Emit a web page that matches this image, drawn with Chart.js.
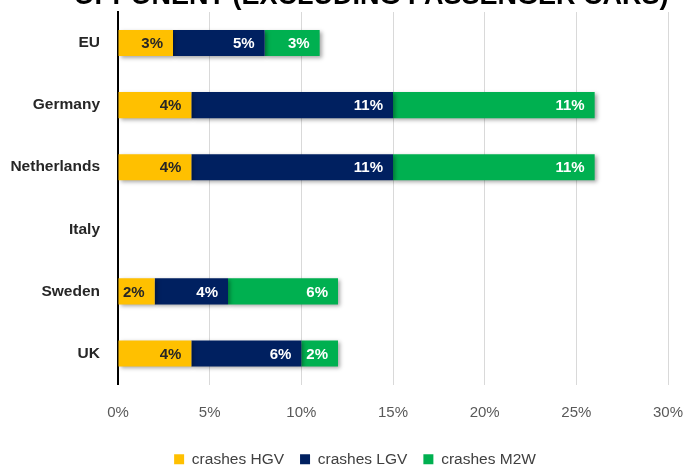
<!DOCTYPE html>
<html>
<head>
<meta charset="utf-8">
<script src="https://cdn.jsdelivr.net/npm/chart.js@4/dist/chart.umd.min.js"></script>
<style>
  html, body { margin: 0; padding: 0; background: #fff; }
  #wrap { width: 688px; height: 467px; overflow: hidden; position: relative; }
  #chart { display: block; margin-top: -18px; }
</style>
</head>
<body>
<div id="wrap">
  <canvas id="chart" width="688" height="495"></canvas>
</div>
<script>
// chart data
const countries = ["EU", "Germany", "Netherlands", "Italy", "Sweden", "UK"];
const crashesHGV = [3, 4, 4, 0, 2, 4];
const crashesLGV = [5, 11, 11, 0, 4, 6];
const crashesM2W = [3, 11, 11, 0, 6, 2];
const xTicks = [0, 5, 10, 15, 20, 25, 30];
const chartTitle = "OPPONENT (EXCLUDING PASSENGER CARS)";

const FONT = "'Liberation Sans', Arial, sans-serif";

// title is cut off by the top edge in the original, so draw it by hand
const topTitle = {
  id: "topTitle",
  afterDraw(chart) {
    const ctx = chart.ctx;
    ctx.save();
    ctx.font = "bold 27px " + FONT;
    ctx.fillStyle = "#000000";
    ctx.textAlign = "center";
    ctx.textBaseline = "alphabetic";
    ctx.fillText(chartTitle, 371, 22);
    ctx.restore();
  }
};

// the legend in the original sits a little right of centre
const legendShift = {
  id: "legendShift",
  afterLayout(chart) {
    chart.legend.left += 11;
    chart.legend.right += 11;
  }
};

// draws the value inside each segment, near its right end
const segmentLabels = {
  id: "segmentLabels",
  afterDatasetsDraw(chart) {
    const ctx = chart.ctx;
    ctx.save();
    ctx.font = "bold 15px " + FONT;
    ctx.textAlign = "right";
    ctx.textBaseline = "middle";
    chart.data.datasets.forEach((ds, i) => {
      const meta = chart.getDatasetMeta(i);
      meta.data.forEach((bar, j) => {
        const v = ds.data[j];
        if (!v) return;
        ctx.fillStyle = ds.labelColor;
        ctx.fillText(v + "%", bar.x - 10, bar.y + 1);
      });
    });
    ctx.restore();
  }
};

// soft drop shadow under the bars
const barShadow = {
  id: "barShadow",
  beforeDatasetsDraw(chart) {
    const ctx = chart.ctx;
    ctx.save();
    ctx.shadowColor = "rgba(0,0,0,0.35)";
    ctx.shadowBlur = 4;
    ctx.shadowOffsetX = 2;
    ctx.shadowOffsetY = 2;
  },
  afterDatasetsDraw(chart) {
    chart.ctx.restore();
  }
};

new Chart(document.getElementById("chart"), {
  type: "bar",
  data: {
    labels: countries,
    datasets: [
      { label: "crashes HGV", data: crashesHGV, backgroundColor: "#FFC000", labelColor: "#262626" },
      { label: "crashes LGV", data: crashesLGV, backgroundColor: "#002060", labelColor: "#ffffff" },
      { label: "crashes M2W", data: crashesM2W, backgroundColor: "#00B050", labelColor: "#ffffff" }
    ]
  },
  options: {
    indexAxis: "y",
    responsive: false,
    animation: false,
    barPercentage: 0.84,
    categoryPercentage: 0.5,
    layout: { padding: { left: 0, right: 0, top: 30, bottom: 0 } },
    scales: {
      x: {
        stacked: true,
        min: 0,
        max: 30,
        afterBuildTicks(axis) { axis.ticks = xTicks.map(v => ({ value: v })); },
        afterFit(axis) {
          axis.height -= 5;
          axis.paddingLeft = 0;
          axis.paddingRight = 20;
        },
        ticks: {
          callback: v => v + "%",
          color: "#595959",
          font: { family: FONT, size: 15 },
          padding: 19
        },
        grid: { color: "#d9d9d9", lineWidth: 1, drawTicks: false },
        border: { display: false }
      },
      y: {
        stacked: true,
        afterFit(axis) { axis.width = 118; },
        ticks: {
          color: "#262626",
          font: { family: FONT, size: 15.5, weight: "bold" },
          padding: 18
        },
        grid: { display: false, drawTicks: false },
        border: { display: true, color: "#000000", width: 2 }
      }
    },
    plugins: {
      title: { display: false },
      legend: {
        position: "bottom",
        labels: {
          boxWidth: 10,
          boxHeight: 10,
          color: "#404040",
          font: { family: FONT, size: 15.5 },
          padding: 16
        }
      },
      tooltip: { enabled: false }
    }
  },
  plugins: [barShadow, segmentLabels, topTitle, legendShift]
});
</script>
</body>
</html>
